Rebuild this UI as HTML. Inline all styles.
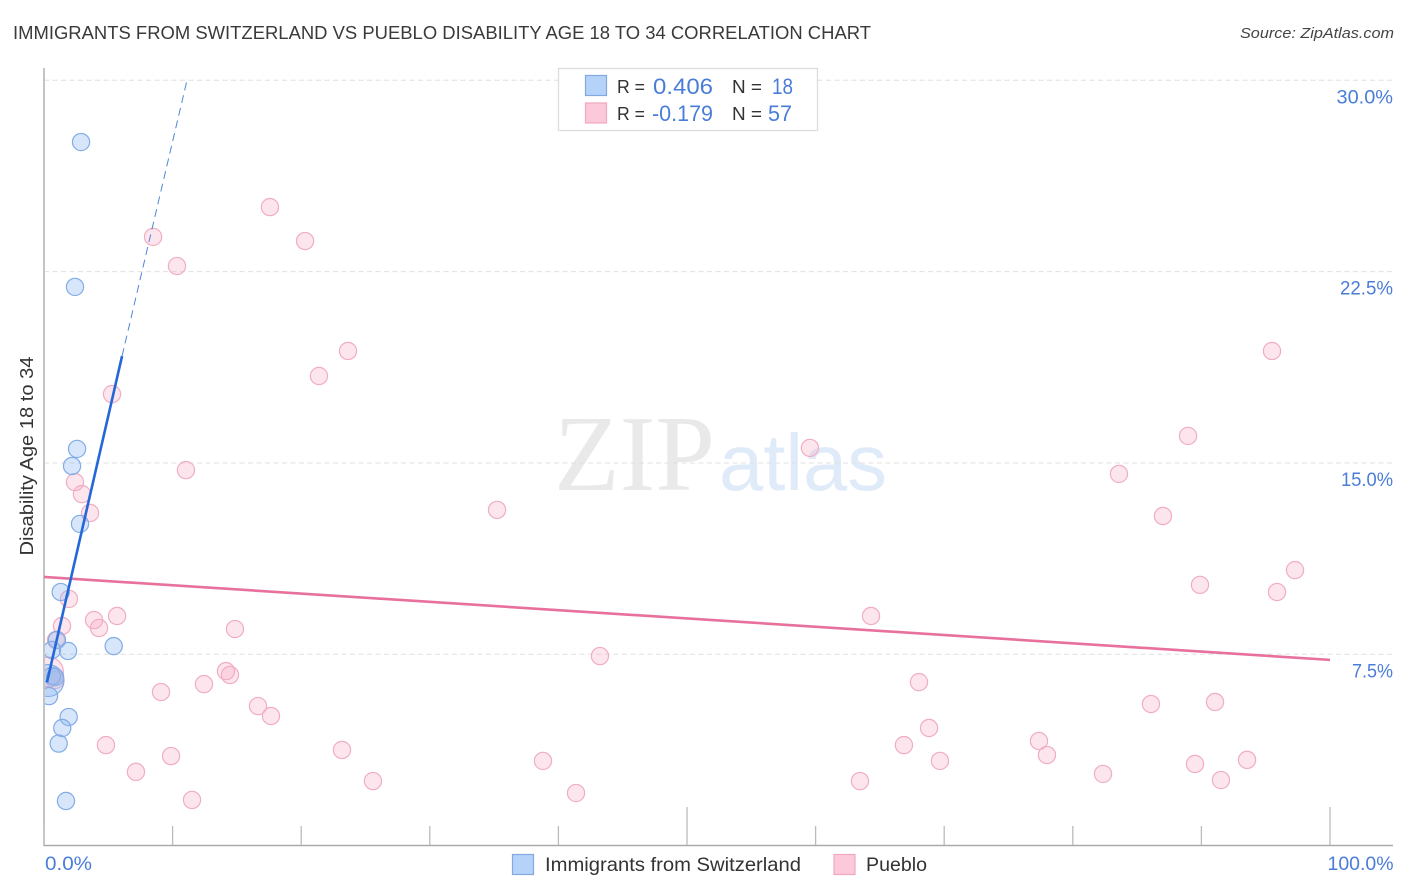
<!DOCTYPE html>
<html lang="en">
<head>
<meta charset="utf-8">
<title>Immigrants from Switzerland vs Pueblo Disability Age 18 to 34 Correlation Chart</title>
<style>
html,body{margin:0;padding:0;background:#fff;width:1406px;height:892px;overflow:hidden}
svg{display:block;font-family:"Liberation Sans",sans-serif}
</style>
</head>
<body>
<svg id="chart" width="1406" height="892" viewBox="0 0 1406 892" xmlns="http://www.w3.org/2000/svg">
  <text x="13" y="39" font-size="18.5" fill="#3a3a3a" textLength="858" lengthAdjust="spacingAndGlyphs">IMMIGRANTS FROM SWITZERLAND VS PUEBLO DISABILITY AGE 18 TO 34 CORRELATION CHART</text>
  <text x="1394" y="38" font-size="15" font-style="italic" fill="#444" text-anchor="end" textLength="154" lengthAdjust="spacingAndGlyphs">Source: ZipAtlas.com</text>

  <g>
    <text x="554" y="490" font-family="'Liberation Serif',serif" font-size="108" fill="#e9e9e9" textLength="161" lengthAdjust="spacingAndGlyphs">ZIP</text>
    <text x="719" y="490" font-size="80" fill="#e0ebf9" textLength="168" lengthAdjust="spacingAndGlyphs">atlas</text>
  </g>

  <g id="grid"></g>
  <g id="points-pueblo"></g>
  <g id="points-swiss"></g>
  <rect x="0" y="60" width="45" height="790" fill="#fff"/>
  <g id="axes"></g>
  <g id="trends"></g>
  <g id="labels"></g>

  <text transform="translate(33,456) rotate(-90)" font-size="18" fill="#333" text-anchor="middle" textLength="199" lengthAdjust="spacingAndGlyphs">Disability Age 18 to 34</text>

  <g font-size="18.5">
    <rect x="558.5" y="68.5" width="259" height="62" fill="#fff" stroke="#ddd" stroke-width="1.3"/>
    <rect x="585.5" y="75.5" width="21" height="20" fill="#b5d2f8" stroke="#82a9e0" stroke-width="1.2"/>
    <rect x="585.5" y="103" width="21" height="20" fill="#fcc9da" stroke="#f0a8c0" stroke-width="1.2"/>
    <text x="617" y="93" fill="#333" textLength="28" lengthAdjust="spacingAndGlyphs">R =</text>
    <text x="653" y="94" font-size="22" fill="#4a7dd8" textLength="60" lengthAdjust="spacingAndGlyphs">0.406</text>
    <text x="732" y="93" fill="#333" textLength="30" lengthAdjust="spacingAndGlyphs">N =</text>
    <text x="772" y="94" font-size="22" fill="#4a7dd8" textLength="21" lengthAdjust="spacingAndGlyphs">18</text>
    <text x="617" y="120" fill="#333" textLength="28" lengthAdjust="spacingAndGlyphs">R =</text>
    <text x="652" y="121" font-size="22" fill="#4a7dd8" textLength="61" lengthAdjust="spacingAndGlyphs">-0.179</text>
    <text x="732" y="120" fill="#333" textLength="30" lengthAdjust="spacingAndGlyphs">N =</text>
    <text x="768" y="121" font-size="22" fill="#4a7dd8" textLength="24" lengthAdjust="spacingAndGlyphs">57</text>
  </g>

  <g>
    <rect x="512.5" y="854.5" width="21" height="20" fill="#b5d2f8" stroke="#82a9e0" stroke-width="1.2"/>
    <text x="545" y="871" font-size="19.5" fill="#333" textLength="256" lengthAdjust="spacingAndGlyphs">Immigrants from Switzerland</text>
    <rect x="834" y="854.5" width="21" height="20" fill="#fcc9da" stroke="#f0a8c0" stroke-width="1.2"/>
    <text x="866" y="871" font-size="19.5" fill="#333" textLength="61" lengthAdjust="spacingAndGlyphs">Pueblo</text>
  </g>
</svg>
<script>
const swissX = [2.88,2.41,2.57,2.18,2.80,1.30,1.01,0.62,1.87,5.42,0.62,0.86,0.31,0.39,1.92,1.42,1.14,1.71];
const swissY = [27.58,21.90,15.55,14.88,12.61,9.94,8.06,7.67,7.63,7.82,6.65,6.61,6.47,5.86,5.04,4.61,4.00,1.75];
const swissWeight = [1,1,1,1,1,1,1,1,1,1,1,1,3.46,1,1,1,1,1];

const puebloX = [8.48,10.34,17.57,20.30,23.64,21.38,5.29,11.04,2.41,2.95,3.58,35.23,1.94,3.89,4.28,5.68,1.40,14.85,0.93,43.23,64.31,59.56,83.59,88.96,95.49,87.01,89.89,97.28,95.88,68.04,86.08,91.06,68.82,66.87,69.67,77.37,77.99,82.35,89.50,91.52,93.55,63.45,38.80,41.37,25.58,23.17,17.65,16.64,14.15,14.46,12.44,9.10,4.82,9.88,7.15,11.51,0.35,0.86];
const puebloY = [23.86,22.72,25.03,23.70,19.39,18.41,17.70,14.72,14.25,13.78,13.04,13.16,9.67,8.84,8.53,9.00,8.61,8.49,8.06,7.43,9.00,15.59,14.57,16.06,19.39,12.92,10.22,10.80,9.94,6.41,5.55,5.63,4.61,3.94,3.32,4.10,3.55,2.81,3.20,2.57,3.36,2.53,3.32,2.06,2.53,3.75,5.08,5.47,6.84,6.69,6.33,6.02,3.94,3.51,2.89,1.79,6.81,6.49];
const puebloWeight = [1,1,1,1,1,1,1,1,1,1,1,1,1,1,1,1,1,1,1,1,1,1,1,1,1,1,1,1,1,1,1,1,1,1,1,1,1,1,1,1,1,1,1,1,1,1,1,1,1,1,1,1,1,1,1,1,3,1];

const swissTrendX = [0.23, 6.07, 11.12];
const swissTrendY = [6.40, 19.19, 30.0];
const puebloTrendX = [0, 100];
const puebloTrendY = [10.53, 7.28];

const yTickValues = [7.5, 15, 22.5, 30];
const yTickLabels = ['7.5%', '15.0%', '22.5%', '30.0%'];
const xTickValues = [0, 10, 20, 30, 40, 50, 60, 70, 80, 90, 100];
const xMajorTicks = [50, 100];
const xEndValues = [0, 100];
const xEndLabels = ['0.0%', '100.0%'];

const SVG_NS = 'http://www.w3.org/2000/svg';
const xScale = v => 44 + v * 12.86;
const yScale = v => 845.6 - v * 25.51;
const glyphPx = {'0':11.5,'1':7.5,'2':10,'3':9.5,'4':11,'5':9,'6':11,'7':8,'8':11,'9':11,'.':5,'%':19};
const labelWidth = s => Array.from(s).reduce((sum, ch) => sum + (glyphPx[ch] || 10), 0);

function make(tag, parent, attrs) {
  const el = document.createElementNS(SVG_NS, tag);
  for (const k in attrs) el.setAttribute(k, attrs[k]);
  document.getElementById(parent).appendChild(el);
  return el;
}

yTickValues.forEach((v, i) => {
  const line = make('line', 'grid', {x1: 44, x2: 1393, y1: yScale(v), y2: yScale(v), stroke: '#e0e0e0', 'stroke-width': 1, 'stroke-dasharray': '5 3.5'});
  
  
  const label = make('text', 'labels', {x: 1393, y: yScale(v) + 23, 'font-size': 19.5, fill: '#4a7dd8', 'text-anchor': 'end', textLength: labelWidth(yTickLabels[i]), lengthAdjust: 'spacingAndGlyphs'});
  label.textContent = yTickLabels[i];
  
  
});

const yAxis = make('line', 'axes', {x1: 44, x2: 44, y1: 68, y2: 846, stroke: '#aaa', 'stroke-width': 1.4});


const xAxis = make('line', 'axes', {x1: 44, x2: 1393, y1: 845.5, y2: 845.5, stroke: '#aaa', 'stroke-width': 1.4});



xTickValues.forEach(v => {
  const top = xMajorTicks.includes(v) ? 807 : 826;
  const tick = make('line', 'axes', {x1: xScale(v), x2: xScale(v), y1: top, y2: 845, stroke: '#bbb', 'stroke-width': 1.3});
  
  
});

xEndValues.forEach((v, i) => {
  const label = make('text', 'labels', {
    x: i === 0 ? xScale(v) + 1 : xScale(v) + 63.5,
    y: 870, 'font-size': 19.5, fill: '#4a7dd8',
    'text-anchor': i === 0 ? 'start' : 'end',
    textLength: labelWidth(xEndLabels[i]), lengthAdjust: 'spacingAndGlyphs'
  });
  label.textContent = xEndLabels[i];
  
  
});

puebloX.forEach((v, i) => {
  const c = make('circle', 'points-pueblo', {
    cx: xScale(v), cy: yScale(puebloY[i]), r: 8.6 * Math.sqrt(puebloWeight[i]),
    fill: 'rgba(248,170,196,0.3)', stroke: '#f0adc4', 'stroke-width': 1.2
  });
  
  
});

swissX.forEach((v, i) => {
  const c = make('circle', 'points-swiss', {
    cx: xScale(v), cy: yScale(swissY[i]), r: 8.6 * Math.sqrt(swissWeight[i]),
    fill: 'rgba(140,184,240,0.35)', stroke: '#82ace6', 'stroke-width': 1.2
  });
  
  
});

const puebloTrend = make('line', 'trends', {
  x1: xScale(puebloTrendX[0]), y1: yScale(puebloTrendY[0]),
  x2: xScale(puebloTrendX[1]), y2: yScale(puebloTrendY[1]),
  stroke: '#e8709c', 'stroke-width': 2.6
});



const swissSolid = make('line', 'trends', {
  x1: xScale(swissTrendX[0]), y1: yScale(swissTrendY[0]),
  x2: xScale(swissTrendX[1]), y2: yScale(swissTrendY[1]),
  stroke: '#2468d8', 'stroke-width': 2.6
});



const swissDash = make('line', 'trends', {
  x1: xScale(swissTrendX[1]), y1: yScale(swissTrendY[1]),
  x2: xScale(swissTrendX[2]), y2: yScale(swissTrendY[2]),
  stroke: '#4f86d8', 'stroke-width': 1, 'stroke-dasharray': '8 5'
});


</script>
</body>
</html>
